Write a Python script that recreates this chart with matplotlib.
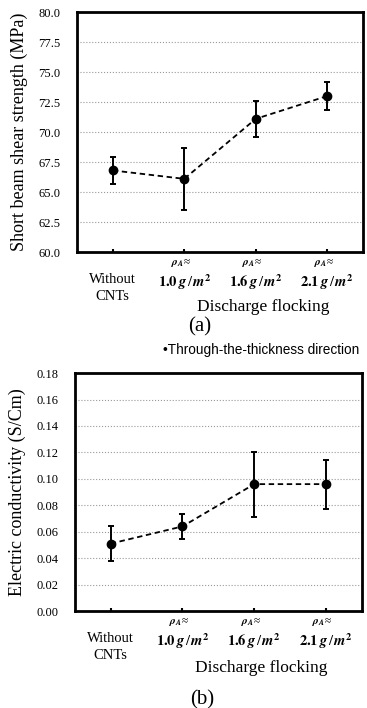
import matplotlib.pyplot as plt
import numpy as np

plt.rcParams["font.family"] = ["Liberation Serif", "DejaVu Serif"]
plt.rcParams["mathtext.fontset"] = "stix"

categories = ["Without CNTs", "1.0", "1.6", "2.1"]

shear_mean = [66.8, 66.1, 71.1, 73.0]
shear_err = [1.1, 2.6, 1.5, 1.2]

cond_mean = [0.051, 0.064, 0.096, 0.096]
cond_err = [0.013, 0.0095, 0.0245, 0.0185]

shear_ticks = np.arange(60.0, 80.1, 2.5)
cond_ticks = np.arange(0.0, 0.181, 0.02)


def make_labels(cats):
    labels = []
    for c in cats:
        if c == "Without CNTs":
            labels.append("Without\nCNTs")
        else:
            labels.append(r"$\mathbf{" + c + r"}\,\mathbfit{g}\,/\,\mathbfit{m}^{\mathbf{2}}$")
    return labels


def draw_panel(ax, means, errs, ticks, fmt, ylabel, tag, y_disc, y_tag, x_tag):
    x = np.arange(len(means))
    ax.errorbar(x, means, yerr=errs, color="black", fmt="o", ms=6,
                elinewidth=1.4, capsize=2.5, capthick=1.4, zorder=5)
    ax.plot(x, means, color="black", ls=(0, (3, 2)), lw=1.3, zorder=4)
    ax.set_xlim(-0.5, len(means) - 0.5)
    ax.set_ylim(ticks[0], ticks[-1])
    ax.set_yticks(ticks)
    ax.set_yticklabels([fmt.format(t) for t in ticks], fontsize=9)
    ax.tick_params(axis="y", length=0, pad=12)
    ax.set_xticks(x)
    ax.set_xticklabels(make_labels(categories), fontsize=10.5, linespacing=1.45)
    ax.tick_params(axis="x", length=2, width=1.5, direction="in", pad=15)
    ax.grid(axis="y", color="#999999", ls=":", lw=0.8)
    for s in ax.spines.values():
        s.set_linewidth(2)
    ax.set_ylabel(ylabel, fontsize=13, labelpad=7)
    # density prefix above the flocked categories
    for xi, c in zip(x, categories):
        if c != "Without CNTs":
            ax.text(xi - 0.05, -0.046, r"$\mathbfit{\rho}_{\mathbfit{A}}$≈",
                    transform=ax.get_xaxis_transform(), ha="center", va="center",
                    fontsize=8)
    ax.text(2.1, y_disc, "Discharge flocking", transform=ax.get_xaxis_transform(),
            ha="center", va="center", fontsize=12.5)
    ax.text(x_tag, y_tag, tag, transform=ax.get_xaxis_transform(),
            ha="center", va="center", fontsize=15)


fig = plt.figure(figsize=(3.67, 7.08), dpi=100)
ax1 = fig.add_axes([0.210, 0.644, 0.779, 0.339])
ax2 = fig.add_axes([0.204, 0.137, 0.782, 0.336])

draw_panel(ax1, shear_mean, shear_err, shear_ticks, "{:.1f}",
           "Short beam shear strength (MPa)", "(a)", -0.229, -0.31, 1.22)
draw_panel(ax2, cond_mean, cond_err, cond_ticks, "{:.2f}",
           "Electric conductivity (S/Cm)", "(b)", -0.24, -0.372, 1.28)

fig.text(0.445, 0.506, "•Through-the-thickness direction", family=["Liberation Sans"],
         fontsize=9.8, ha="left", va="center")

fig.savefig("out.png", dpi=100)
